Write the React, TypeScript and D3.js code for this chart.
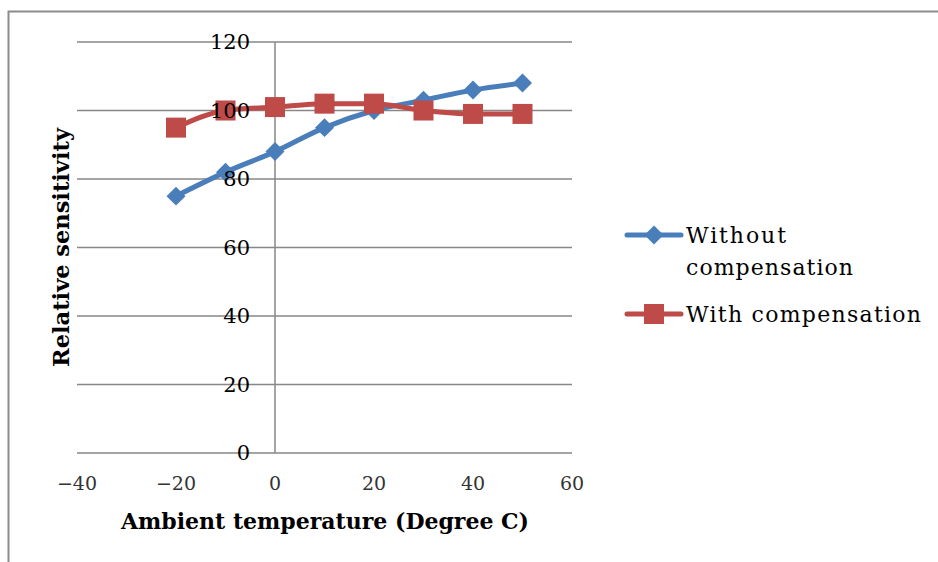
import { useEffect, useRef } from "react";
import * as d3 from "d3";

const temps = [-20, -10, 0, 10, 20, 30, 40, 50];
const withoutComp = [75, 82, 88, 95, 100, 103, 106, 108];
const withComp = [95, 100, 101, 102, 102, 100, 99, 99];
const xTicks = [-40, -20, 0, 20, 40, 60];
const yTicks = [0, 20, 40, 60, 80, 100, 120];

const FONT = "'DejaVu Serif', serif";

export default function App() {
  const svgRef = useRef<SVGSVGElement>(null);

  useEffect(() => {
    const svg = d3.select(svgRef.current);
    svg.selectAll("*").remove();

    const x = d3.scaleLinear().domain([-40, 60]).range([77, 572]);
    const y = d3.scaleLinear().domain([0, 120]).range([453, 42]);

    // outer frame
    svg.append("rect")
      .attr("x", 8.5).attr("y", 11.5)
      .attr("width", 960).attr("height", 600)
      .attr("fill", "none").attr("stroke", "#8c8c8c").attr("stroke-width", 2);

    // horizontal gridlines
    svg.append("g").selectAll("line")
      .data(yTicks)
      .join("line")
      .attr("x1", x(-40)).attr("x2", x(60))
      .attr("y1", d => y(d)).attr("y2", d => y(d))
      .attr("stroke", "#878787").attr("stroke-width", 1.5);

    // vertical axis at x = 0
    svg.append("line")
      .attr("x1", x(0)).attr("x2", x(0))
      .attr("y1", y(120)).attr("y2", y(0))
      .attr("stroke", "#878787").attr("stroke-width", 1.5);

    // x tick labels
    svg.append("g").selectAll("text")
      .data(xTicks)
      .join("text")
      .attr("x", d => x(d)).attr("y", 490)
      .attr("text-anchor", "middle")
      .attr("font-family", FONT).attr("font-size", 19).attr("fill", "#333")
      .text(d => (d < 0 ? "\u2212" + Math.abs(d) : String(d)));

    // axis titles
    svg.append("text")
      .attr("x", 325).attr("y", 529)
      .attr("text-anchor", "middle")
      .attr("font-family", FONT).attr("font-weight", "bold").attr("font-size", 22)
      .text("Ambient temperature (Degree C)");

    svg.append("text")
      .attr("transform", `translate(69,${(y(0) + y(120)) / 2}) rotate(-90)`)
      .attr("text-anchor", "middle")
      .attr("font-family", FONT).attr("font-weight", "bold").attr("font-size", 22.5)
      .text("Relative sensitivity");

    const line = d3.line<number>()
      .x((_, i) => x(temps[i]))
      .y(d => y(d))
      .curve(d3.curveMonotoneX);

    const blue = "#4a7ebb";
    const red = "#be4b48";

    svg.append("path").datum(withoutComp)
      .attr("d", line).attr("fill", "none")
      .attr("stroke", blue).attr("stroke-width", 5).attr("stroke-linecap", "round");
    svg.append("path").datum(withComp)
      .attr("d", line).attr("fill", "none")
      .attr("stroke", red).attr("stroke-width", 5).attr("stroke-linecap", "round");

    const diamond = d3.symbol().type(d3.symbolDiamond2).size(230);
    svg.append("g").selectAll("path")
      .data(withoutComp)
      .join("path")
      .attr("transform", (d, i) => `translate(${x(temps[i])},${y(d)})`)
      .attr("d", diamond()).attr("fill", blue);

    svg.append("g").selectAll("rect")
      .data(withComp)
      .join("rect")
      .attr("x", (_, i) => x(temps[i]) - 10).attr("y", d => y(d) - 10)
      .attr("width", 20).attr("height", 20).attr("fill", red);

    // y tick labels sit on top of the markers
    svg.append("g").selectAll("text")
      .data(yTicks)
      .join("text")
      .attr("x", x(0) - 25).attr("y", d => y(d) + 7)
      .attr("text-anchor", "end")
      .attr("font-family", FONT).attr("font-size", 21).attr("fill", "#000")
      .text(d => d);

    // legend
    const lg = svg.append("g").attr("font-family", FONT).attr("font-size", 22);
    lg.append("line").attr("x1", 627).attr("x2", 681).attr("y1", 235).attr("y2", 235)
      .attr("stroke", blue).attr("stroke-width", 5).attr("stroke-linecap", "round");
    lg.append("path").attr("transform", "translate(654,235)").attr("d", diamond()).attr("fill", blue);
    lg.append("text").attr("x", 686).attr("y", 243).attr("textLength", 100).text("Without");
    lg.append("text").attr("x", 686).attr("y", 275).attr("textLength", 167).text("compensation");

    lg.append("line").attr("x1", 627).attr("x2", 681).attr("y1", 314).attr("y2", 314)
      .attr("stroke", red).attr("stroke-width", 5).attr("stroke-linecap", "round");
    lg.append("rect").attr("x", 644).attr("y", 304).attr("width", 20).attr("height", 20).attr("fill", red);
    lg.append("text").attr("x", 686).attr("y", 322).attr("textLength", 235).text("With compensation");
  }, []);

  return (
    <svg
      ref={svgRef}
      width={938}
      height={562}
      style={{ position: "absolute", left: 0, top: 0, background: "#fff" }}
    />
  );
}
